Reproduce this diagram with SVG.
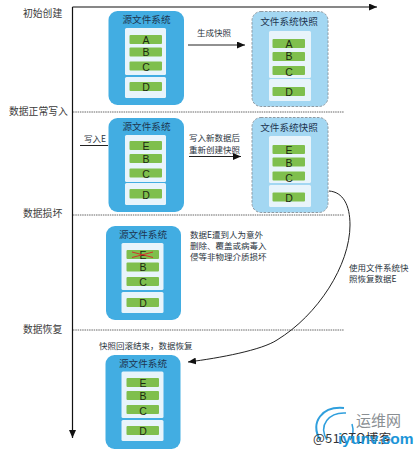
<svg xmlns="http://www.w3.org/2000/svg" width="419" height="455" viewBox="0 0 419 455">
<style>
text{font-family:"Noto Sans CJK SC","Liberation Sans",sans-serif;fill:#2a3440;font-size:8.5px}
.lab{font-size:9.8px;fill:#3a3a3a}
.title{font-size:9.6px;text-anchor:middle;fill:#1d3550}
.let{font-family:"Liberation Sans",sans-serif;font-size:10.5px;text-anchor:middle;fill:#1c2a10}
.src{fill:#42ade2}
.snap{fill:#a3d7f2;stroke:#8e9aa3;stroke-width:1;stroke-dasharray:2.5 1.5}
.pan{fill:#e8f4fb}
.bar{fill:#7fbf4d}
.ax{stroke:#111;stroke-width:1.2;fill:none}
.dash{stroke:#666;stroke-width:1;stroke-dasharray:1.5 .8;fill:none}
.con{stroke:#222;stroke-width:1;fill:none}
</style>
<defs>
<marker id="ah" markerUnits="userSpaceOnUse" markerWidth="9" markerHeight="7" refX="8" refY="3.5" orient="auto"><path d="M0 0L8 3.5L0 7z" fill="#111"/></marker>
</defs>
<g id="connectors">
<path class="ax" d="M72.5 7H377" marker-end="url(#ah)"/>
<path class="ax" d="M72.5 7V438" marker-end="url(#ah)"/>
<path class="dash" d="M73 112H344M73 215H344M73 330H344"/>
<path class="con" d="M188 45H245" marker-end="url(#ah)"/>
<path class="con" d="M80 145.500H108" stroke="#555"/>
<path class="con" d="M189 156.500H241" marker-end="url(#ah)"/>
<path class="con" d="M329 191C343 192 350 205 350 225C350 265 318 315 277 340C262 350 220 358 188 362" marker-end="url(#ah)"/>
</g>
<g id="labels">
<text class="lab" x="23" y="16.500">初始创建</text>
<text class="lab" x="9" y="115">数据正常写入</text>
<text class="lab" x="23" y="216.500">数据损坏</text>
<text class="lab" x="23" y="333">数据恢复</text>
<text x="197" y="36">生成快照</text>
<text x="84" y="142">写入E</text>
<text x="189" y="141">写入新数据后</text>
<text x="189" y="153">重新创建快照</text>
<text x="190" y="238">数据E遭到人为意外</text>
<text x="190" y="249">删除、覆盖或病毒入</text>
<text x="190" y="259.500">侵等非物理介质损坏</text>
<text x="349" y="271">使用文件系统快</text>
<text x="349" y="282">照恢复数据E</text>
<text x="99" y="349">快照回滚结束&#xFF0C;数据恢复</text>
</g>
<g id="src1">
<rect class="src" x="108.500" y="11" width="75.500" height="94" rx="9"/>
<text class="title" x="146.500" y="23">源文件系统</text>
<rect class="pan" x="125" y="28" width="41" height="47" rx="1.500"/><rect class="pan" x="125" y="77" width="41" height="21" rx="1.500"/>
<rect class="bar" x="129.500" y="35" width="32.500" height="9" rx="1"/><rect class="bar" x="129.500" y="47.500" width="32.500" height="9" rx="1"/><rect class="bar" x="129.500" y="61.500" width="32.500" height="9" rx="1"/><rect class="bar" x="129.500" y="82" width="32.500" height="9" rx="1"/>
<text class="let" x="146" y="43.500">A</text><text class="let" x="146" y="56">B</text><text class="let" x="146" y="71">C</text><text class="let" x="146" y="91">D</text>
</g>
<g id="snap1">
<rect class="snap" x="252" y="11.500" width="76" height="95" rx="9"/>
<text class="title" x="289" y="25">文件系统快照</text>
<rect class="pan" x="269" y="31" width="42" height="47" rx="1.500"/><rect class="pan" x="269" y="79" width="42" height="22" rx="1.500"/>
<rect class="bar" x="272.500" y="39" width="32.500" height="9" rx="1"/><rect class="bar" x="272.500" y="52" width="32.500" height="9" rx="1"/><rect class="bar" x="272.500" y="66" width="32.500" height="9" rx="1"/><rect class="bar" x="272.500" y="87" width="32.500" height="9" rx="1"/>
<text class="let" x="289" y="47.500">A</text><text class="let" x="289" y="60">B</text><text class="let" x="289" y="75.500">C</text><text class="let" x="289" y="96">D</text>
</g>
<g id="src2">
<rect class="src" x="108.500" y="118" width="75.500" height="94" rx="9"/>
<text class="title" x="146.500" y="130">源文件系统</text>
<rect class="pan" x="125" y="135" width="41" height="47" rx="1.500"/><rect class="pan" x="125" y="183" width="41" height="22" rx="1.500"/>
<rect class="bar" x="129.500" y="141" width="32.500" height="9" rx="1"/><rect class="bar" x="129.500" y="154" width="32.500" height="9" rx="1"/><rect class="bar" x="129.500" y="168.500" width="32.500" height="9" rx="1"/><rect class="bar" x="129.500" y="189" width="32.500" height="9.500" rx="1"/>
<text class="let" x="146" y="150">E</text><text class="let" x="146" y="162.500">B</text><text class="let" x="146" y="178">C</text><text class="let" x="146" y="198.500">D</text>
</g>
<g id="snap2">
<rect class="snap" x="252" y="117.500" width="76" height="95" rx="9"/>
<text class="title" x="289" y="131">文件系统快照</text>
<rect class="pan" x="269" y="136" width="42" height="47" rx="1.500"/><rect class="pan" x="269" y="185" width="42" height="22" rx="1.500"/>
<rect class="bar" x="272.500" y="145" width="32.500" height="9" rx="1"/><rect class="bar" x="272.500" y="157.500" width="32.500" height="9" rx="1"/><rect class="bar" x="272.500" y="171.500" width="32.500" height="9" rx="1"/><rect class="bar" x="272.500" y="192.500" width="32.500" height="9" rx="1"/>
<text class="let" x="289" y="153.500">E</text><text class="let" x="289" y="166.500">B</text><text class="let" x="289" y="181.500">C</text><text class="let" x="289" y="201.500">D</text>
</g>
<g id="src3">
<rect class="src" x="106" y="226" width="75" height="94" rx="9"/>
<text class="title" x="143" y="238">源文件系统</text>
<rect class="pan" x="121.500" y="243" width="42" height="47" rx="1.500"/><rect class="pan" x="121.500" y="292" width="42" height="21" rx="1.500"/>
<rect class="bar" x="126.500" y="250" width="32.500" height="9" rx="1"/><rect class="bar" x="126.500" y="262.500" width="32.500" height="9" rx="1"/><rect class="bar" x="126.500" y="277" width="32.500" height="9" rx="1"/><rect class="bar" x="126.500" y="298" width="32.500" height="9" rx="1"/>
<text class="let" x="143" y="258.500">E</text><text class="let" x="143" y="271">B</text><text class="let" x="143" y="286">C</text><text class="let" x="143" y="306.500">D</text>
<path d="M132 252L153 257.500M132 257.500L153 252" stroke="#d3322a" stroke-width="1" fill="none"/>
</g>
<g id="src4">
<rect class="src" x="105.500" y="355" width="75" height="94" rx="9"/>
<text class="title" x="143" y="367">源文件系统</text>
<rect class="pan" x="121.500" y="371.500" width="42" height="46.500" rx="1.500"/><rect class="pan" x="121.500" y="420" width="42" height="21" rx="1.500"/>
<rect class="bar" x="126.500" y="378" width="32.500" height="9" rx="1"/><rect class="bar" x="126.500" y="391" width="32.500" height="9" rx="1"/><rect class="bar" x="126.500" y="405" width="32.500" height="9" rx="1"/><rect class="bar" x="126.500" y="426" width="32.500" height="9" rx="1"/>
<text class="let" x="143" y="387">E</text><text class="let" x="143" y="399.500">B</text><text class="let" x="143" y="414.500">C</text><text class="let" x="143" y="435">D</text>
</g>
<g id="watermark">
<path d="M320 440C310 422 322 406 344 408" stroke="#2f9fdd" stroke-width="2" fill="none"/>
<path d="M327 440C318 425 329 412 346 413" stroke="#2f9fdd" stroke-width="1.500" fill="none"/>
<path d="M352 424C354 431 353 436 350 440" stroke="#2f9fdd" stroke-width="1.500" fill="none"/>
<text x="356" y="426" style="font-size:15px;fill:#8a8f93">运维网</text>
<text x="313" y="443" style="font-size:12.500px;fill:#333;letter-spacing:.5px">@51CTO博客</text>
<text x="338" y="444" style="font-family:'Liberation Sans',sans-serif;font-size:15.500px;font-weight:bold;fill:#1c95d8">iyunv.com</text>
</g>
</svg>
